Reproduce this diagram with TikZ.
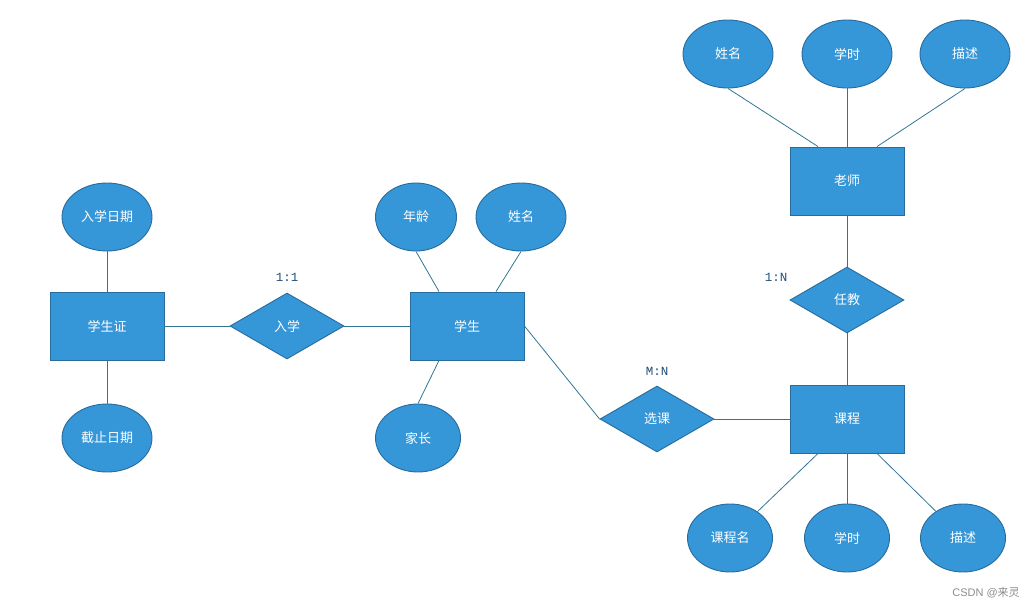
\documentclass[tikz,border=0pt]{standalone}
\usepackage{fontspec}
\setmainfont{Liberation Sans}
\newfontfamily\cjk{Noto Sans CJK SC}
\newfontfamily\relfont{Liberation Mono}
\usetikzlibrary{shapes.geometric}
\definecolor{erfill}{RGB}{53,150,216}
\definecolor{erborder}{RGB}{40,108,158}
\definecolor{erline}{RGB}{48,118,148}
\definecolor{erlabel}{RGB}{30,78,120}
\tikzstyle{base}=[draw=erborder, fill=erfill, line width=0.9pt, inner sep=0pt, text=white, font=\cjk\fontsize{13}{15}\selectfont]
\tikzstyle{entity}=[base, rectangle, minimum width=114pt, minimum height=68pt]
\tikzstyle{relation}=[base, diamond, minimum width=114pt, minimum height=66pt]
\tikzstyle{attr}=[base, ellipse, minimum width=90pt, minimum height=68pt]
\tikzstyle{card}=[text=erlabel, font=\relfont\fontsize{12.5}{14}\selectfont]
\tikzstyle{link}=[draw=erline, line width=0.8pt]

\begin{document}
\begin{tikzpicture}[x=1pt, y=-1pt]
\useasboundingbox (0,0) rectangle (1036,608);
% entities
\node (xsz) [entity] at (107,326) {学生证};
\node (xs) [entity] at (467,326) {学生};
\node (ls) [entity] at (847,181) {老师};
\node (kc) [entity] at (847,419) {课程};
% relations
\node (rx) [relation] at (287,326) {入学};
\node (xk) [relation] at (657,419) {选课};
\node (rj) [relation] at (847,300) {任教};
% attributes
\node (rxrq) [attr] at (107,217) {入学日期};
\node (jzrq) [attr] at (107,438) {截止日期};
\node (nl) [attr, minimum width=81pt] at (416,217) {年龄};
\node (xsxm) [attr] at (521,217) {姓名};
\node (jz) [attr, minimum width=85pt] at (418,438) {家长};
\node (lsxm) [attr] at (728,54) {姓名};
\node (lsxs) [attr] at (847,54) {学时};
\node (lsms) [attr] at (965,54) {描述};
\node (kcm) [attr, minimum width=85pt] at (730,538) {课程名};
\node (kcxs) [attr, minimum width=85pt] at (847,538) {学时};
\node (kcms) [attr, minimum width=85pt] at (963,538) {描述};
% cardinalities
\node (c11) [card] at (287,277) {1:1};
\node (c1n) [card] at (776,277) {1:N};
\node (cmn) [card] at (657,371) {M:N};
\node (mark) [text=black!45, font=\fontsize{11}{13}\selectfont] at (986,593) {CSDN @{\cjk 来灵}};

\draw [link] (rxrq.south) -- (xsz.north);
\draw [link] (xsz.south) -- (jzrq.north);
\draw [link] (xsz.east) -- (rx.west);
\draw [link] (rx.east) -- (xs.west);
\draw [link] (nl.south) -- ([xshift=-28pt]xs.north);
\draw [link] (xsxm.south) -- ([xshift=29pt]xs.north);
\draw [link] (jz.north) -- ([xshift=-28pt]xs.south);
\draw [link] (xs.east) -- (xk.west);
\draw [link] (xk.east) -- (kc.west);
\draw [link] (kc.north) -- (rj.south);
\draw [link] (rj.north) -- (ls.south);
\draw [link] (lsxm.south) -- ([xshift=-29pt]ls.north);
\draw [link] (lsxs.south) -- (ls.north);
\draw [link] (lsms.south) -- ([xshift=30pt]ls.north);
\draw [link] ([xshift=-29pt]kc.south) -- (kcm);
\draw [link] (kc.south) -- (kcxs.north);
\draw [link] ([xshift=30pt]kc.south) -- (kcms);
\end{tikzpicture}
\end{document}
